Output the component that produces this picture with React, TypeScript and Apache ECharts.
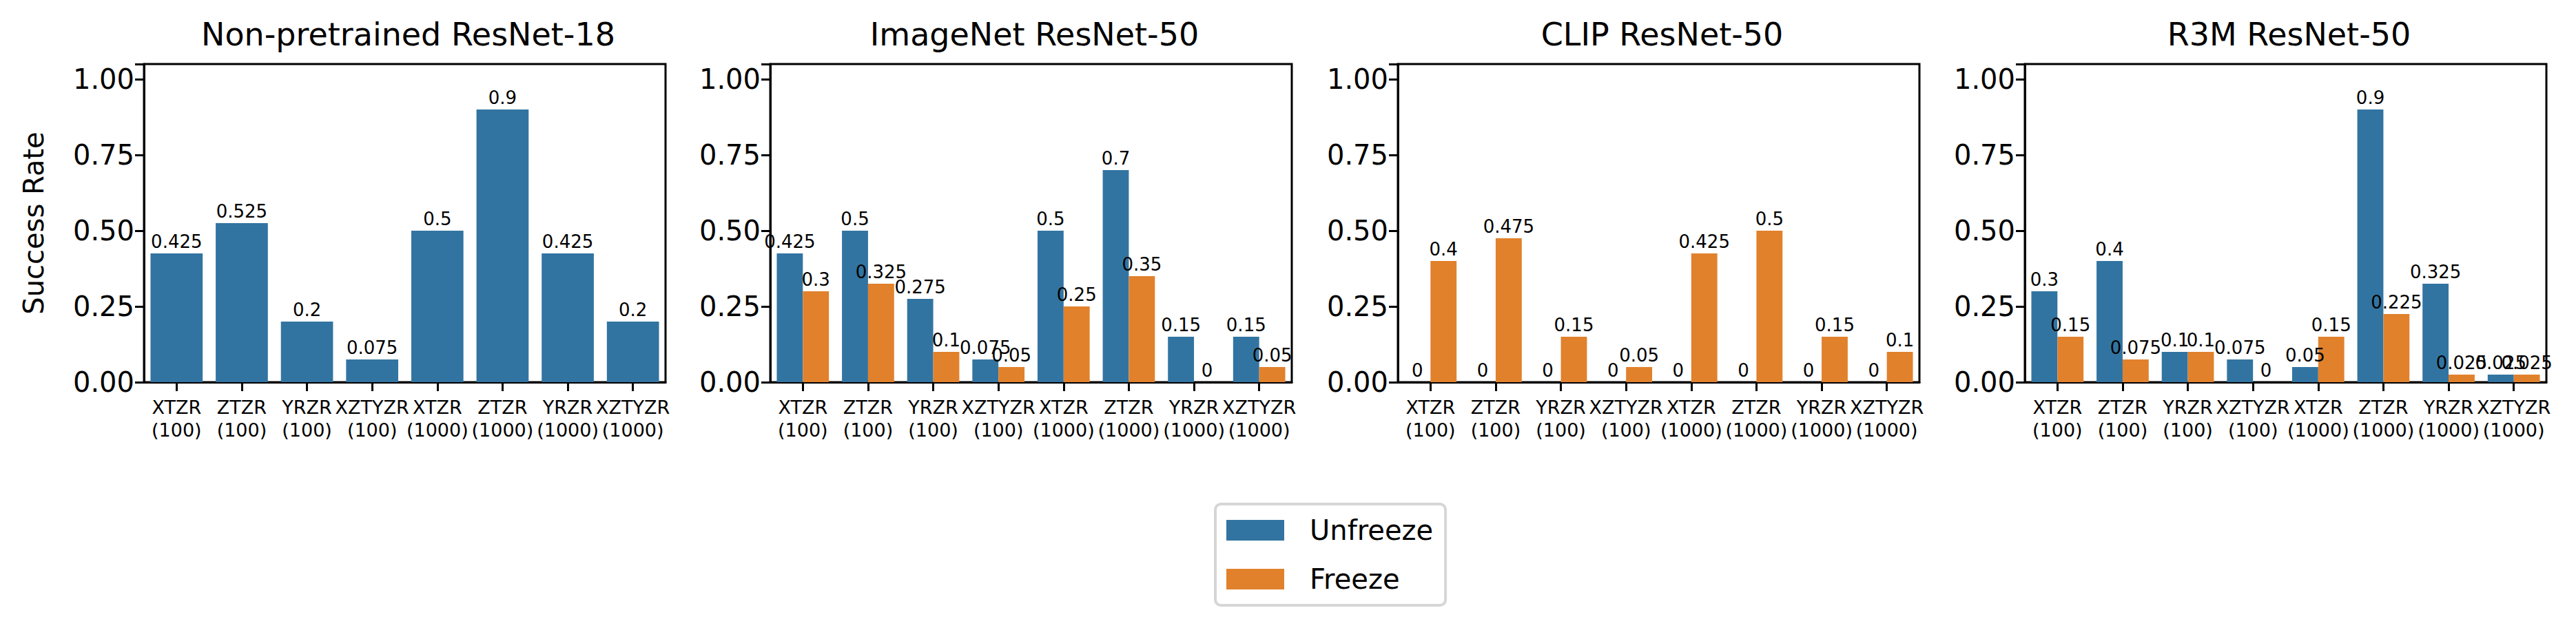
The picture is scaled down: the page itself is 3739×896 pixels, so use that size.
import React, { useEffect, useRef } from "react";
import * as echarts from "echarts";

const categories = ["XTZR\n(100)", "ZTZR\n(100)", "YRZR\n(100)", "XZTYZR\n(100)", "XTZR\n(1000)", "ZTZR\n(1000)", "YRZR\n(1000)", "XZTYZR\n(1000)"];
const panelTitles = ["Non-pretrained ResNet-18", "ImageNet ResNet-50", "CLIP ResNet-50", "R3M ResNet-50"];
const unfreeze = [
  [0.425, 0.525, 0.2, 0.075, 0.5, 0.9, 0.425, 0.2],
  [0.425, 0.5, 0.275, 0.075, 0.5, 0.7, 0.15, 0.15],
  [0, 0, 0, 0, 0, 0, 0, 0],
  [0.3, 0.4, 0.1, 0.075, 0.05, 0.9, 0.325, 0.025],
];
const freeze: (number[] | null)[] = [
  null,
  [0.3, 0.325, 0.1, 0.05, 0.25, 0.35, 0, 0.05],
  [0.4, 0.475, 0.15, 0.05, 0.425, 0.5, 0.15, 0.1],
  [0.15, 0.075, 0.1, 0, 0.15, 0.225, 0.025, 0.025],
];
const yTicks = [0, 0.25, 0.5, 0.75, 1.0];

const BLUE = "#3274a1";
const ORANGE = "#e1812c";
const FONT = "DejaVu Sans";

export default function App() {
  const ref = useRef<HTMLDivElement>(null);
  useEffect(() => {
    const chart = echarts.init(ref.current!, null, { renderer: "svg" });
    const lefts = [209, 1118, 2029, 2939];
    const W = 757, TOP = 93, H = 462;
    const grids: any[] = [], xAxes: any[] = [], yAxes: any[] = [], series: any[] = [], titles: any[] = [];
    const lbl = { show: true, position: "top", distance: 4, color: "#000", fontSize: 26, fontFamily: FONT };
    lefts.forEach((l, i) => {
      grids.push({ left: l, top: TOP, width: W, height: H, show: true, borderColor: "#000", borderWidth: 3, backgroundColor: "transparent" });
      titles.push({ text: panelTitles[i], left: l + W / 2, top: 22, textAlign: "center", textStyle: { fontSize: 46, fontWeight: "normal", color: "#000", fontFamily: FONT } });
      xAxes.push({
        type: "category", gridIndex: i, data: categories,
        axisLine: { show: true, lineStyle: { color: "#000", width: 3 } },
        axisTick: { show: true, alignWithLabel: true, length: 13, lineStyle: { color: "#000", width: 3 } },
        axisLabel: { interval: 0, fontSize: 27, lineHeight: 33, color: "#000", fontFamily: FONT, margin: 20, hideOverlap: false },
      });
      yAxes.push({
        type: "value", gridIndex: i, min: 0, max: 1.05, interval: 0.25,
        name: i === 0 ? "Success Rate" : "", nameLocation: "middle", nameGap: 140,
        nameTextStyle: { fontSize: 40, color: "#000", fontFamily: FONT },
        splitLine: { show: false },
        axisLine: { show: true, lineStyle: { color: "#000", width: 3 } },
        axisTick: { show: true, length: 13, lineStyle: { color: "#000", width: 3 } },
        axisLabel: {
          fontSize: 40, color: "#000", fontFamily: FONT, margin: 14,
          formatter: (v: number) => (yTicks.some((t) => Math.abs(t - v) < 1e-9) ? v.toFixed(2) : ""),
        },
      });
      const f = freeze[i];
      series.push({
        type: "bar", name: "Unfreeze", xAxisIndex: i, yAxisIndex: i, data: unfreeze[i],
        barWidth: f ? "40%" : "80%", barGap: "0%", itemStyle: { color: BLUE }, label: lbl,
      });
      if (f) {
        series.push({
          type: "bar", name: "Freeze", xAxisIndex: i, yAxisIndex: i, data: f,
          barWidth: "40%", barGap: "0%", itemStyle: { color: ORANGE }, label: lbl,
        });
      }
    });
    chart.setOption({
      animation: false,
      backgroundColor: "#fff",
      title: titles,
      grid: grids,
      xAxis: xAxes,
      yAxis: yAxes,
      series,
      legend: {
        data: ["Unfreeze", "Freeze"], orient: "vertical", left: 1764, top: 732,
        itemWidth: 84, itemHeight: 30, itemGap: 31, icon: "rect",
        padding: [18, 18, 18, 16], borderColor: "#d6d6d6", borderWidth: 4, borderRadius: 8,
        textStyle: { fontSize: 40, color: "#000", fontFamily: FONT, padding: [0, 0, 0, 32] },
      },
    });
    return () => chart.dispose();
  }, []);
  return <div ref={ref} style={{ position: "absolute", left: 0, top: 0, width: 3739, height: 896 }} />;
}
